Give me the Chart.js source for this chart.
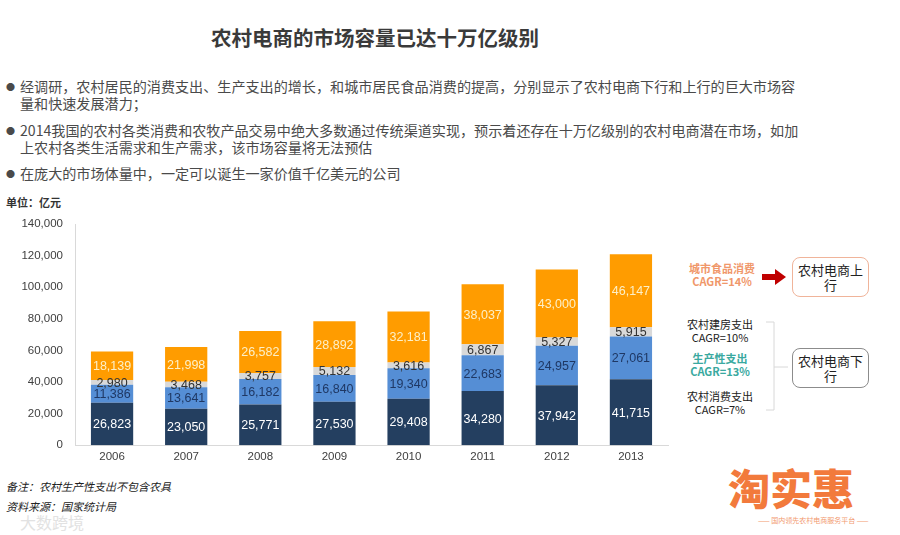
<!DOCTYPE html>
<html>
<head>
<meta charset="utf-8">
<script src="https://cdn.jsdelivr.net/npm/chart.js@4"></script>
<style>
  body { margin: 0; background: #fff; }
  #page { position: relative; width: 900px; height: 535px; overflow: hidden; font-family: "Noto Sans CJK SC", "Noto Sans", sans-serif; color: #404040; }
  .abs { position: absolute; white-space: nowrap; }
  .title { left: 211px; top: 22px; font-size: 20.5px; font-weight: bold; color: #3a3a3a; }
  .bullet { left: 6px; font-size: 14.1px; line-height: 17px; color: #4a4a4a; }
  .bullet span.dot { display: inline-block; width: 14px; font-size: 9px; vertical-align: 2px; }
  .bullet .ind { padding-left: 14px; }
  .unit { left: 6px; top: 194px; font-size: 11px; font-weight: bold; color: #333; }
  .note { left: 6px; font-size: 11px; font-style: italic; color: #222; }
  .ann { font-size: 11px; line-height: 13px; text-align: center; }
  .box { position: absolute; border-radius: 8px; background: #fff; font-size: 13px; line-height: 15px; text-align: center; color: #222; box-sizing: border-box; padding-top: 4px; }
  #chartWrap { position: absolute; left: 0; top: 200px; width: 680px; height: 275px; }
</style>
</head>
<body>
<div id="page">
  <div class="abs title">农村电商的市场容量已达十万亿级别</div>

  <div class="abs bullet" style="top:78px"><span class="dot">●</span>经调研，农村居民的消费支出、生产支出的增长，和城市居民食品消费的提高，分别显示了农村电商下行和上行的巨大市场容<br><span class="ind">量和快速发展潜力；</span></div>
  <div class="abs bullet" style="top:122px"><span class="dot">●</span>2014我国的农村各类消费和农牧产品交易中绝大多数通过传统渠道实现，预示着还存在十万亿级别的农村电商潜在市场，如加<br><span class="ind">上农村各类生活需求和生产需求，该市场容量将无法预估</span></div>
  <div class="abs bullet" style="top:165px"><span class="dot">●</span>在庞大的市场体量中，一定可以诞生一家价值千亿美元的公司</div>

  <div class="abs unit">单位：亿元</div>

  <div id="chartWrap"><canvas id="chart"></canvas></div>

  <!-- right side annotations -->
  <div class="abs ann" style="left:684px; top:262px; width:76px; color:#f0976a; font-weight:bold;">城市食品消费<br>CAGR=14%</div>
  <svg class="abs" style="left:760px; top:268px" width="28" height="18">
    <polygon points="2,6 15,6 15,1 26,9 15,17 15,12 2,12" fill="#c00000"/>
  </svg>
  <div class="box" style="left:792px; top:257px; width:77px; height:40px; border:1px solid #f0b49a;">农村电商上<br>行</div>

  <div class="abs ann" style="left:682px; top:318px; width:76px; color:#222;">农村建房支出<br>CAGR=10%</div>
  <div class="abs ann" style="left:682px; top:352px; width:76px; color:#3aa9a0; font-weight:bold;">生产性支出<br>CAGR=13%</div>
  <div class="abs ann" style="left:682px; top:390px; width:76px; color:#222;">农村消费支出<br>CAGR=7%</div>
  <svg class="abs" style="left:764px; top:320px" width="30" height="95">
    <polyline points="2,2 10,2 10,90 2,90" fill="none" stroke="#d8d8d8" stroke-width="1"/>
    <line x1="10" y1="47" x2="24" y2="47" stroke="#d8d8d8" stroke-width="1"/>
  </svg>
  <div class="box" style="left:792px; top:348px; width:77px; height:40px; border:1px solid #8c8c8c;">农村电商下<br>行</div>

  <div class="abs note" style="top:478px">备注：农村生产性支出不包含农具</div>
  <div class="abs note" style="top:498px">资料来源：国家统计局</div>
  <div class="abs" style="left:20px; top:510px; font-size:16px; color:#e2e2e2;">大数跨境</div>

  <div class="abs" style="left:728px; top:456px; font-size:42px; font-weight:900; color:#f27a3c;">淘实惠</div>
  <div class="abs" style="left:758px; top:515px; font-size:7px; color:#f29a70;">—— 国内领先农村电商服务平台 ——</div>
</div>

<script>
// categories and series (单位：亿元)
const years = ['2006', '2007', '2008', '2009', '2010', '2011', '2012', '2013'];
const ruralConsumption = [26823, 23050, 25771, 27530, 29408, 34280, 37942, 41715];
const productionSpend = [11386, 13641, 16182, 16840, 19340, 22683, 24957, 27061];
const housingSpend = [2980, 3468, 3757, 5132, 3616, 6867, 5327, 5915];
const urbanFood = [18139, 21998, 26582, 28892, 32181, 38037, 43000, 46147];
const yMax = 140000;
const yStep = 20000;

const labelColors = ['#ffffff', '#1f3864', '#333333', '#fdf0c8'];

const fmt = v => v.toLocaleString('en-US');

// draw value text in the middle of every stacked segment
const segmentLabels = {
  id: 'segmentLabels',
  afterDatasetsDraw(chart) {
    const ctx = chart.ctx;
    ctx.save();
    ctx.font = '12.5px "Liberation Sans", Arial, sans-serif';
    ctx.textAlign = 'center';
    ctx.textBaseline = 'middle';
    chart.data.datasets.forEach((ds, i) => {
      const meta = chart.getDatasetMeta(i);
      ctx.fillStyle = labelColors[i];
      meta.data.forEach((bar, j) => {
        const p = bar.getProps(['x', 'y', 'base'], true);
        ctx.fillText(fmt(ds.data[j]), p.x, (p.y + p.base) / 2 + 1);
      });
    });
    ctx.restore();
  }
};

new Chart(document.getElementById('chart'), {
  type: 'bar',
  data: {
    labels: years,
    datasets: [
      { label: '农村消费支出', data: ruralConsumption, backgroundColor: '#243f60' },
      { label: '生产性支出', data: productionSpend, backgroundColor: '#558ed5' },
      { label: '农村建房支出', data: housingSpend, backgroundColor: '#d9d9d9' },
      { label: '城市食品消费', data: urbanFood, backgroundColor: '#ff9c00' }
    ]
  },
  options: {
    responsive: true,
    maintainAspectRatio: false,
    animation: false,
    layout: { padding: { top: 24, right: 12, bottom: 6, left: 0 } },
    plugins: { legend: { display: false }, tooltip: { enabled: false } },
    datasets: { bar: { barPercentage: 0.57, categoryPercentage: 1 } },
    scales: {
      x: {
        stacked: true,
        grid: { display: false, drawTicks: false },
        border: { color: '#d9d9d9' },
        ticks: { color: '#404040', padding: 5, font: { family: 'Liberation Sans', size: 11.5 } }
      },
      y: {
        stacked: true,
        min: 0,
        max: yMax,
        afterFit(scale) { scale.width = 75; },
        grid: { display: false, drawTicks: false },
        border: { color: '#d9d9d9' },
        ticks: {
          stepSize: yStep,
          color: '#404040',
          padding: 12,
          font: { family: 'Liberation Sans', size: 11.5 },
          callback: v => fmt(v)
        }
      }
    }
  },
  plugins: [segmentLabels]
});
</script>
</body>
</html>
